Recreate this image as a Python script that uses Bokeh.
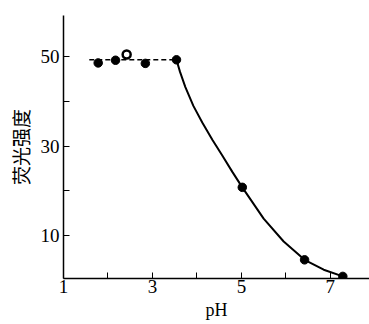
from bokeh.plotting import figure
from bokeh.models import FixedTicker, Range1d
from bokeh.embed import file_html
from bokeh.resources import INLINE

# measured points
ph_pts = [1.78, 2.17, 2.84, 3.54, 5.02, 6.42, 7.28]
fl_pts = [48.6, 49.2, 48.5, 49.3, 20.8, 4.6, 0.9]
# open (circled) point
ph_open = [2.42]
fl_open = [50.5]

# dashed plateau line
ph_dash = [1.58, 3.54]
fl_dash = [49.3, 49.3]

# solid fitted curve
ph_curve = [3.54, 3.62, 3.74, 3.92, 4.12, 4.35, 4.57, 4.8, 5.02, 5.5, 5.95, 6.42, 6.85, 7.28]
fl_curve = [49.3, 46.6, 43.2, 39.0, 35.3, 31.4, 27.9, 24.2, 20.8, 13.8, 8.7, 4.6, 2.4, 0.9]

x_ticks = [1, 3, 5, 7]
x_minor = [2, 4, 6]
y_ticks = [10, 30, 50]
y_minor = [20, 40]

p = figure(frame_width=306, frame_height=263, output_backend="svg", toolbar_location=None,
           x_range=Range1d(1, 7.88), y_range=Range1d(0.43, 59.2),
           min_border_left=63, min_border_right=0, min_border_top=15, min_border_bottom=46)
p.outline_line_color = None
p.grid.visible = False
p.background_fill_color = "white"
p.border_fill_color = "white"

p.line(ph_dash, fl_dash, line_color="black", line_width=1.5, line_dash="5 3")
p.line(ph_curve, fl_curve, line_color="black", line_width=2)
p.scatter(ph_pts, fl_pts, size=8.5, fill_color="black", line_color="black")
p.scatter(ph_open, fl_open, size=8, fill_color="white", line_color="black", line_width=2.5)

for ax in (p.xaxis[0], p.yaxis[0]):
    ax.axis_line_color = "black"
    ax.axis_line_width = 1.5
    ax.major_tick_in = 6
    ax.major_tick_out = 0
    ax.minor_tick_in = 6
    ax.minor_tick_out = 0
    ax.major_tick_line_color = "black"
    ax.minor_tick_line_color = "black"
    ax.major_label_text_font = "Liberation Serif"
    ax.major_label_text_font_size = "19px"
    ax.major_label_text_color = "black"
    ax.axis_label_text_color = "black"
    ax.axis_label_text_font_style = "normal"

p.xaxis.ticker = FixedTicker(ticks=x_ticks, minor_ticks=x_minor)
p.yaxis.ticker = FixedTicker(ticks=y_ticks, minor_ticks=y_minor)
p.xaxis.axis_label = "pH"
p.xaxis.axis_label_text_font = "Liberation Serif"
p.xaxis.axis_label_text_font_size = "18px"
p.xaxis.major_label_standoff = 1
p.xaxis.axis_label_standoff = 4
p.yaxis.axis_label = "荧光强度"
p.yaxis.axis_label_text_font = "Noto Sans CJK SC"
p.yaxis.axis_label_text_font_size = "19px"
p.yaxis.major_label_standoff = 4
p.yaxis.axis_label_standoff = 4

open("out.html", "w").write(file_html(p, INLINE))
